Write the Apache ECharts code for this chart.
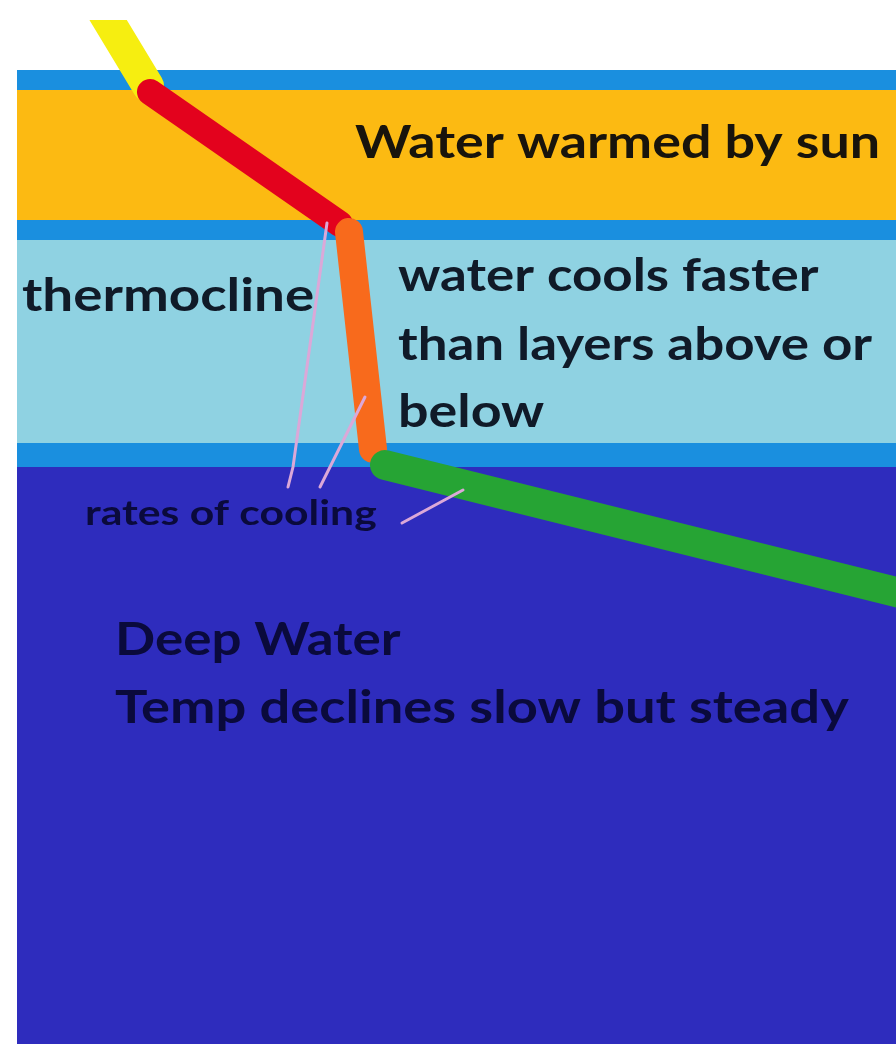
<!DOCTYPE html>
<html>
<head>
<meta charset="utf-8">
<script src="https://cdn.jsdelivr.net/npm/echarts@6/dist/echarts.min.js"></script>
<style>
  html, body { margin: 0; padding: 0; background: #fff; }
  #chart { width: 896px; height: 1044px; }
</style>
</head>
<body>
<div id="chart"></div>
<script>
// water layers, depth measured downward (same units as the y axis)
const layerNames = ['surfaceEdge', 'warm', 'edgeTop', 'thermocline', 'edgeBottom', 'deep'];
const layerTop = [70, 90, 220, 240, 443, 467];
const layerBottom = [90, 220, 240, 443, 467, 1044];

// temperature profile pieces [x, depth]
const sunRay = [[96, 0], [148, 86]];
const warmProfile = [[150, 92], [340, 224]];
const thermoProfile = [[349, 232], [373, 449]];
const deepProfile = [[385, 465], [920, 598]];

// "rates of cooling" pointers
const pointerA = [[327, 223], [293, 467], [288, 487]];
const pointerB = [[365, 397], [320, 487]];
const pointerC = [[463, 490], [402, 523]];

// labels: text and anchor [left x, middle y]
const labelTexts = ['Water warmed by sun', 'thermocline', 'water cools faster',
  'than layers above or', 'below', 'rates of cooling', 'Deep Water',
  'Temp declines slow but steady'];
const labelAnchors = [[355, 143], [22, 296], [398, 276], [398, 345], [398, 412],
  [85, 514], [115, 640], [115, 708]];

const layerColor = {
  surfaceEdge: '#1a8fdf', warm: '#fcba12', edgeTop: '#1a8fdf',
  thermocline: '#8fd2e2', edgeBottom: '#1a8fdf', deep: '#2e2cbd'
};
const labelStyle = [
  { size: 46, color: '#18140c', sx: 1.17 },
  { size: 46, color: '#101a28', sx: 1.19 },
  { size: 46, color: '#101a28', sx: 1.15 },
  { size: 46, color: '#101a28', sx: 1.15 },
  { size: 46, color: '#101a28', sx: 1.17 },
  { size: 35, color: '#0a0a3c', sx: 1.22 },
  { size: 46, color: '#0a0a3c', sx: 1.15 },
  { size: 46, color: '#0a0a3c', sx: 1.18 }
];

const chart = echarts.init(document.getElementById('chart'), null, { renderer: 'canvas' });

function segment(name, pts, color, width, z) {
  return {
    name: name,
    type: 'line',
    data: pts,
    symbol: 'none',
    z: z,
    silent: true,
    lineStyle: { color: color, width: width, cap: 'round', join: 'round' }
  };
}

const option = {
  animation: false,
  backgroundColor: '#ffffff',
  grid: { left: 17, top: 20, right: 0, bottom: 0 },
  xAxis: { type: 'value', min: 17, max: 896, show: false },
  yAxis: { type: 'value', min: 20, max: 1044, inverse: true, show: false },
  series: [
    {
      name: 'layers',
      type: 'custom',
      z: 1,
      silent: true,
      data: layerNames.map((n, i) => [17, layerTop[i], 896, layerBottom[i], i]),
      renderItem: (params, api) => {
        const p0 = api.coord([api.value(0), api.value(1)]);
        const p1 = api.coord([api.value(2), api.value(3)]);
        return {
          type: 'rect',
          shape: { x: p0[0], y: p0[1], width: p1[0] - p0[0], height: p1[1] - p0[1] },
          style: { fill: layerColor[layerNames[api.value(4)]] }
        };
      }
    },
    segment('sun', sunRay, '#f6ee10', 32, 2),
    segment('warm', warmProfile, '#e3021d', 26, 3),
    segment('thermo', thermoProfile, '#f86a1c', 28, 4),
    segment('deep', deepProfile, '#26a434', 30, 4),
    segment('pA', pointerA, '#dba8d8', 3, 5),
    segment('pB', pointerB, '#dba8d8', 3, 5),
    segment('pC', pointerC, '#dba8d8', 3, 5),
    {
      // white margin above the picture, cuts the sun ray flat
      name: 'topMargin',
      type: 'custom',
      z: 6,
      silent: true,
      data: [[0, 0, 896, 20]],
      renderItem: (params, api) => {
        const p0 = api.coord([api.value(0), api.value(1)]);
        const p1 = api.coord([api.value(2), api.value(3)]);
        return {
          type: 'rect',
          shape: { x: p0[0], y: p0[1], width: p1[0] - p0[0], height: p1[1] - p0[1] },
          style: { fill: '#ffffff' }
        };
      }
    },
    {
      name: 'labels',
      type: 'custom',
      z: 7,
      silent: true,
      data: labelAnchors.map((a, i) => [a[0], a[1], i]),
      renderItem: (params, api) => {
        const i = api.value(2);
        const p = api.coord([api.value(0), api.value(1)]);
        const st = labelStyle[i];
        return {
          type: 'text',
          x: p[0],
          y: p[1],
          scaleX: st.sx,
          style: {
            text: labelTexts[i],
            font: 'bold ' + st.size + 'px Lato',
            fill: st.color,
            align: 'left',
            verticalAlign: 'middle'
          }
        };
      }
    }
  ]
};

chart.setOption(option);
</script>
</body>
</html>
